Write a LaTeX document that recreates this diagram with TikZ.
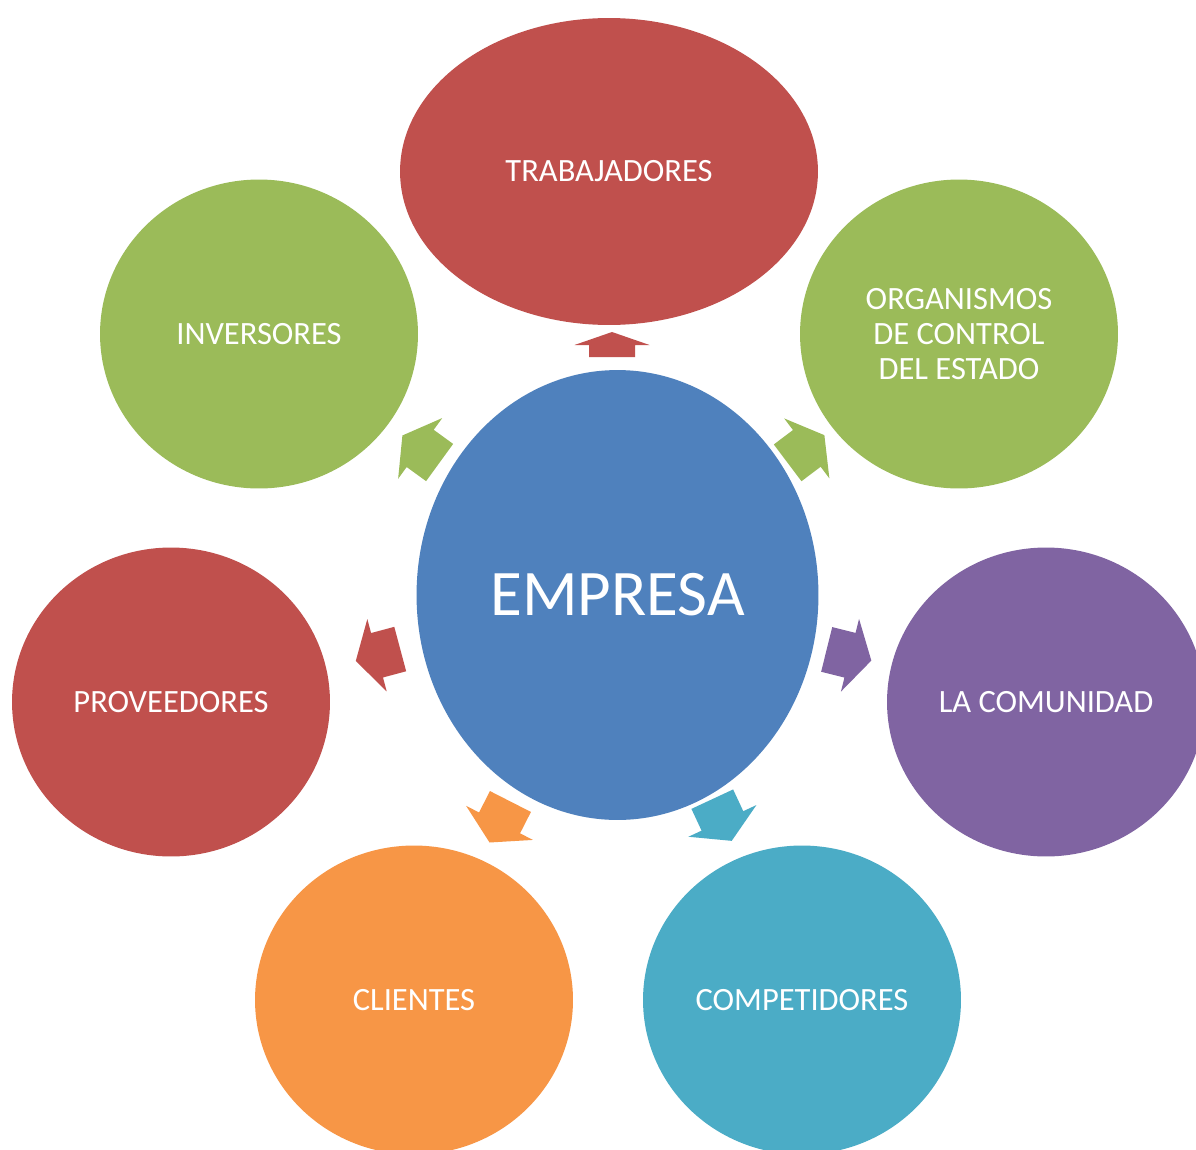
\documentclass[tikz,border=0pt]{standalone}
\usepackage{fontspec}
\setmainfont{Carlito}
\usetikzlibrary{shapes.geometric}
\definecolor{cred}{HTML}{C0504D}
\definecolor{cgreen}{HTML}{9BBB59}
\definecolor{cblue}{HTML}{4F81BD}
\definecolor{cpurple}{HTML}{8064A2}
\definecolor{corange}{HTML}{F79646}
\definecolor{caqua}{HTML}{4BACC6}
\tikzset{
  bubble/.style={ellipse, inner sep=0pt, minimum width=6.36cm, minimum height=6.18cm,
    text=white, font=\fontsize{18.5}{20}\selectfont, align=center},
}
% block arrow: #1 centre, #2 angle, #3 length, #4 head length, #5 colour
\newcommand\blockarrow[5]{%
  \begin{scope}[shift={#1}, rotate=#2]
    \fill[#5] (-#3/2,-23) -- (#3/2-#4,-23) -- (#3/2-#4,-37.5) -- (#3/2,0)
      -- (#3/2-#4,37.5) -- (#3/2-#4,23) -- (-#3/2,23) -- cycle;
  \end{scope}}
\begin{document}
\begin{tikzpicture}[x=0.02cm, y=-0.02cm]
\clip (0,0) rectangle (1196,1149);
\fill[white] (0,0) rectangle (1196,1149);

\node[bubble, fill=cred, minimum width=8.36cm, minimum height=6.14cm] (trab) at (609,171.5) {TRABAJADORES};
\node[bubble, fill=cgreen] (inv) at (259,334) {INVERSORES};
\node[bubble, fill=cgreen] (org) at (959,334) {ORGANISMOS\\DE CONTROL\\DEL ESTADO};
\node[bubble, fill=cred] (prov) at (171,702) {PROVEEDORES};
\node[bubble, fill=cpurple] (com) at (1046,702) {LA COMUNIDAD};
\node[bubble, fill=corange] (cli) at (414,1000) {CLIENTES};
\node[bubble, fill=caqua] (comp) at (802,1000) {COMPETIDORES};
\node[ellipse, fill=cblue, inner sep=0pt, minimum width=8.04cm, minimum height=9.0cm,
  text=white, font=\fontsize{37}{40}\selectfont] (emp) at (617.5,595) {EMPRESA};

\blockarrow{(612,344.5)}{90}{25}{13}{cred}
\blockarrow{(421,449)}{144}{46}{22}{cgreen}
\blockarrow{(806,449)}{37}{46}{22}{cgreen}
\blockarrow{(378,655)}{195}{46}{22}{cred}
\blockarrow{(849,655)}{-14}{46}{22}{cpurple}
\blockarrow{(500,822)}{243}{46}{22}{corange}
\blockarrow{(722,820)}{-65}{46}{22}{caqua}
\end{tikzpicture}
\end{document}
